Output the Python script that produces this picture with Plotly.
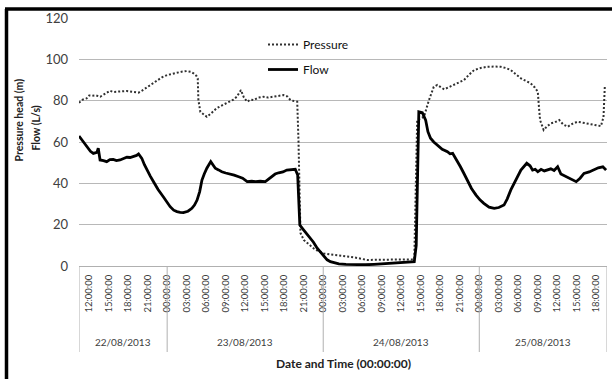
import plotly.graph_objects as go

# hours since 22/08/2013 00:00
flow_t = [10.44, 11.0, 11.6, 12.2, 12.64, 13.2, 13.4, 13.68, 14.2, 14.7, 15.2, 15.7, 16.2, 16.76, 17.3, 17.8,
          18.3, 18.8, 19.3, 19.6, 20.1, 20.5, 20.87, 21.4, 21.9, 22.6, 23.4, 24.0, 24.46, 25.0, 25.5, 26.0,
          26.5, 27.2, 27.8, 28.2, 28.6, 29.0, 29.35, 29.7, 30.1, 30.7, 31.0, 31.4, 31.9, 32.4, 33.0, 33.7,
          34.3, 35.0, 35.6, 36.3, 37.0, 37.6, 38.3, 39.1, 39.6, 40.1, 40.6, 41.15, 41.8, 42.4, 43.0, 43.7,
          44.07, 44.2, 44.4, 45.0, 45.5, 46.0, 46.5, 47.07, 47.6, 48.1, 48.6, 49.1, 49.8, 50.4, 51.5, 53.2,
          54.5, 55.8, 57.0, 58.9, 60.0, 61.0, 62.0, 62.3, 62.5, 62.7, 63.24, 63.75, 64.1, 64.5, 65.0, 65.6,
          66.3, 67.1, 67.5, 67.9, 68.2, 68.6, 69.1, 69.6, 70.2, 70.8, 71.5, 72.1, 72.7, 73.5, 74.3, 75.0,
          75.8, 76.3, 76.85, 77.6, 78.4, 79.3, 79.8, 80.2, 80.6, 81.0, 81.5, 82.0, 82.5, 83.0, 83.5, 84.05,
          84.55, 85.0, 85.6, 86.2, 86.9, 87.5, 88.1, 88.9, 89.7, 90.3, 91.0, 91.5]
flow_v = [62.9, 60.5, 57.7, 55.5, 54.5, 55.0, 57.0, 51.3, 51.0, 50.5, 51.5, 51.6, 51.0, 51.3, 52.0, 52.6,
          52.5, 52.9, 53.5, 54.2, 52.1, 49.0, 46.4, 43.5, 40.8, 37.0, 33.5, 30.5, 28.7, 27.0, 26.3, 26.0,
          25.8, 26.5, 27.9, 29.5, 31.9, 36.0, 41.6, 44.5, 47.3, 50.5, 49.0, 47.3, 46.5, 45.6, 45.0, 44.5,
          44.0, 43.2, 42.5, 40.8, 41.0, 40.8, 41.0, 40.8, 42.0, 43.2, 44.5, 45.1, 45.5, 46.4, 46.5, 46.8,
          44.0, 30.0, 19.8, 17.4, 15.5, 13.5, 11.5, 8.6, 6.5, 4.5, 3.0, 2.1, 1.5, 1.0, 0.8, 0.5,
          0.6, 0.8, 1.0, 1.3, 1.5, 1.6, 2.1, 10.0, 50.0, 74.6, 74.2, 70.6, 65.0, 61.8, 60.0, 58.5,
          56.5, 55.3, 54.3, 54.5, 53.0, 50.5, 48.0, 45.0, 41.6, 37.5, 34.3, 32.0, 30.3, 28.5, 27.9, 28.3,
          29.5, 32.5, 36.8, 41.5, 46.4, 49.7, 48.5, 46.4, 46.8, 45.6, 46.8, 46.0, 46.4, 47.0, 46.2, 48.0,
          44.5, 43.8, 42.9, 41.8, 40.8, 42.5, 44.8, 45.5, 46.8, 47.5, 48.0, 46.4]

pres_t = [10.44, 11.0, 11.6, 12.0, 12.4, 13.0, 13.7, 14.2, 14.7, 15.2, 15.7, 16.25, 17.0, 17.8, 18.6, 19.6,
          20.2, 20.87, 21.6, 22.4, 23.2, 24.0, 24.7, 25.5, 26.2, 27.0, 27.6, 28.05, 28.5, 28.7, 28.8, 29.1,
          29.6, 30.1, 30.8, 31.6, 32.6, 33.7, 34.2, 34.7, 35.35, 35.8, 36.3, 36.8, 37.3, 38.0, 38.8, 39.5,
          40.4, 41.2, 41.9, 42.5, 42.95, 43.5, 44.0, 44.2, 44.35, 44.5, 45.0, 45.7, 46.5, 47.3, 48.1, 49.0,
          50.1, 51.0, 52.0, 52.7, 53.8, 54.8, 56.0, 57.85, 59.5, 61.0, 62.0, 62.2, 62.45, 63.0, 63.5, 63.9,
          64.26, 65.0, 65.55, 66.1, 66.6, 67.3, 68.1, 68.9, 69.65, 70.4, 71.2, 72.2, 73.26, 74.3, 75.3, 76.1,
          76.85, 77.6, 78.4, 79.2, 79.9, 80.5, 81.0, 81.2, 81.35, 81.9, 82.4, 83.0, 83.6, 84.3, 84.9, 85.6,
          86.3, 87.1, 88.0, 89.2, 90.0, 90.7, 91.1, 91.3]
pres_v = [79.0, 80.5, 81.1, 82.5, 82.4, 82.6, 81.9, 83.0, 84.0, 84.8, 84.2, 84.3, 84.8, 84.7, 84.3, 83.9,
          85.0, 86.4, 88.3, 90.0, 91.3, 92.4, 93.0, 93.5, 94.0, 94.3, 94.0, 93.2, 92.0, 90.8, 80.3, 74.6,
          73.2, 72.2, 74.0, 76.3, 78.0, 79.5, 80.5, 81.9, 85.1, 81.5, 79.5, 80.5, 80.3, 81.5, 81.9, 81.5,
          81.9, 82.3, 82.7, 82.0, 80.3, 79.8, 79.5, 60.0, 30.0, 16.0, 12.6, 10.5, 8.6, 7.0, 6.1, 5.6,
          5.3, 5.0, 4.5, 4.2, 3.5, 2.9, 3.0, 3.2, 3.2, 3.2, 3.2, 30.0, 70.6, 71.5, 72.2, 76.5,
          80.3, 86.7, 87.6, 86.5, 85.5, 86.5, 87.6, 88.8, 90.0, 92.5, 94.8, 95.8, 96.4, 96.5, 96.4, 95.8,
          94.8, 92.8, 90.8, 89.5, 88.4, 86.5, 84.3, 76.0, 70.6, 65.8, 67.5, 69.0, 69.5, 70.6, 68.5, 67.4,
          68.8, 69.8, 69.3, 68.7, 68.2, 67.7, 72.0, 86.7]

tick_hours = list(range(12, 91, 3))
tick_text = [f"{h % 24:02d}:00:00" for h in tick_hours]
days = ["22/08/2013", "23/08/2013", "24/08/2013", "25/08/2013"]
day_starts = [0, 24, 48, 72]
x_range = [10.44, 91.64]

FONT = "Lato"
fig = go.Figure()
fig.add_trace(go.Scatter(x=pres_t, y=pres_v, mode="lines", name="Pressure", legendgroup="p",
                         line=dict(color="#303030", width=2, dash="2px,2px")))
fig.add_trace(go.Scatter(x=flow_t, y=flow_v, mode="lines", name="Flow", legendgroup="f",
                         line=dict(color="black", width=2.8)))

W, H = 612, 379
L, R, T, B = 79, 5, 18, 113
pw, ph = W - L - R, H - T - B

def px_x(p):
    return (p - L) / pw

def px_y(p):
    return (H - B - p) / ph

shapes = []
# category separators
bounds = [x_range[0]] + day_starts[1:] + [x_range[1]]
for b in bounds:
    shapes.append(dict(type="line", xref="x", yref="paper", x0=b, x1=b, y0=0, y1=px_y(352),
                       line=dict(color="#b0b0b0", width=1)))
# outer frame (left and top)
shapes.append(dict(type="line", xref="paper", yref="paper", x0=px_x(6.5), x1=px_x(6.5),
                   y0=px_y(9), y1=px_y(379), line=dict(color="black", width=3.5)))
shapes.append(dict(type="line", xref="paper", yref="paper", x0=px_x(5), x1=px_x(612),
                   y0=px_y(9), y1=px_y(9), line=dict(color="black", width=3.5)))

annotations = []
for i, d in enumerate(days):
    lo = max(day_starts[i], x_range[0])
    hi = min(day_starts[i] + 24, x_range[1])
    annotations.append(dict(x=(lo + hi) / 2, y=px_y(342), xref="x", yref="paper", text=d,
                            xanchor="center", yanchor="middle",
                            showarrow=False, font=dict(family=FONT, size=10, color="#404040")))
annotations.append(dict(x=0.5, y=px_y(363), xref="paper", yref="paper", text="<b>Date and Time (00:00:00)</b>",
                        xanchor="center", yanchor="middle",
                        showarrow=False, font=dict(family=FONT, size=12, color="#222")))
annotations.append(dict(x=px_x(18), y=px_y(120.5), xref="paper", yref="paper", text="<b>Pressure head (m)</b>",
                        xanchor="center", yanchor="middle",
                        textangle=-90, showarrow=False, font=dict(family=FONT, size=10.5, color="#222")))
annotations.append(dict(x=px_x(35), y=px_y(128.5), xref="paper", yref="paper", text="<b>Flow (L/s)</b>",
                        xanchor="center", yanchor="middle",
                        textangle=-90, showarrow=False, font=dict(family=FONT, size=10.5, color="#222")))

fig.update_layout(
    width=W, height=H, margin=dict(l=L, r=R, t=T, b=B),
    paper_bgcolor="white", plot_bgcolor="white",
    font=dict(family=FONT, color="#404040"),
    showlegend=True,
    legend=dict(x=px_x(263), y=px_y(30), xanchor="left", yanchor="top", bgcolor="rgba(0,0,0,0)",
                font=dict(family=FONT, size=12, color="#111"), tracegroupgap=6, itemwidth=30),
    xaxis=dict(range=x_range, tickmode="array", tickvals=tick_hours, ticktext=tick_text, tickangle=-90,
               tickfont=dict(family=FONT, size=9.5, color="#404040"), ticks="", showgrid=False,
               zeroline=False, showline=True, linecolor="#b0b0b0", linewidth=1, ticklabelstandoff=4),
    yaxis=dict(range=[0, 120], dtick=20, showgrid=True, gridcolor="#b8b8b8", gridwidth=1,
               zeroline=False, showline=False, ticks="",
               tickfont=dict(family=FONT, size=13, color="#404040"), ticklabelstandoff=10),
    shapes=shapes, annotations=annotations,
)

fig.write_html("out.html", config={"displayModeBar": False},
               post_script="document.body.style.margin='0';")
